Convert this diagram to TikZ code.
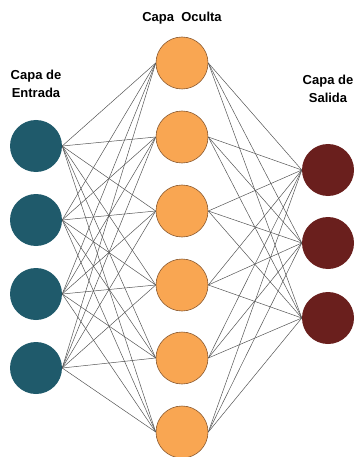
\documentclass[tikz,border=0pt]{standalone}
\usepackage{fontspec}
\setmainfont{Liberation Sans}
\definecolor{inc}{HTML}{1F5A6B}
\definecolor{hid}{HTML}{F9A652}
\definecolor{hidline}{HTML}{8A5A30}
\definecolor{outc}{HTML}{6A1F1D}
\definecolor{edge}{HTML}{555555}
\begin{document}
\begin{tikzpicture}[x=1pt,y=-1pt,
  neuron/.style={circle,minimum size=52pt,inner sep=0pt},
  inneuron/.style={neuron,fill=inc},
  hidneuron/.style={neuron,fill=hid,draw=hidline,line width=0.6pt},
  outneuron/.style={neuron,fill=outc},
  conn/.style={draw=edge,line width=0.5pt},
  lbl/.style={font=\bfseries\fontsize{13}{17.5}\selectfont,align=center}]
\useasboundingbox (0,0) rectangle (355,457);
\foreach \i/\y in {1/146,2/220,3/294,4/368} \node[inneuron] (i\i) at (36,\y) {};
\foreach \j/\y in {1/63,2/137,3/211,4/285,5/358,6/432} \node[hidneuron] (h\j) at (182,\y) {};
\foreach \k/\y in {1/170,2/243,3/318} \node[outneuron] (o\k) at (328,\y) {};
\foreach \i in {1,...,4} \foreach \j in {1,...,6} \draw[conn] (i\i.east) -- (h\j.west);
\foreach \j in {1,...,6} \foreach \k in {1,...,3} \draw[conn] (h\j.east) -- (o\k.west);
\node[lbl] (tin) at (36,84) {Capa de\\Entrada};
\node[lbl] (thid) at (182,18) {Capa\ \ Oculta};
\node[lbl] (tout) at (328,89) {Capa de\\Salida};
\end{tikzpicture}
\end{document}
